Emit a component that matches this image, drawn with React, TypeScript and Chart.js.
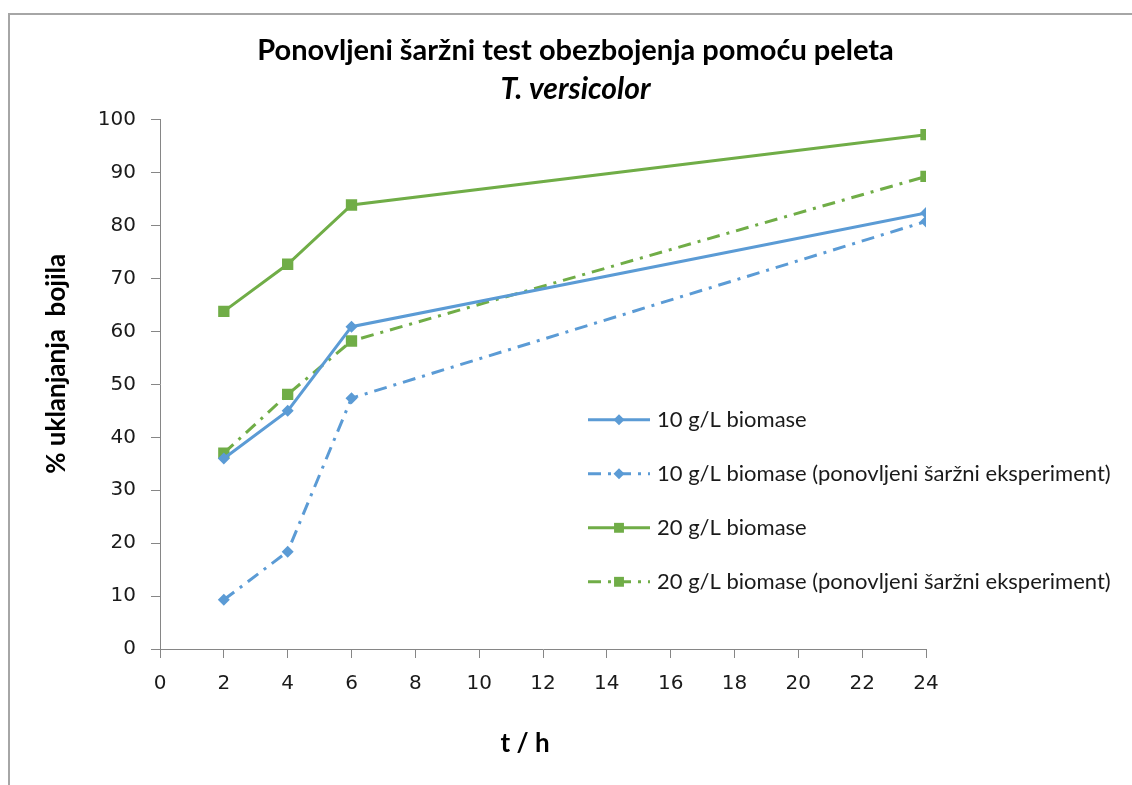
import { useEffect, useRef } from "react";
import { Chart, registerables } from "chart.js";

Chart.register(...registerables);

const timeH = [2, 4, 6, 24];
const biomass10 = [36.0, 45.0, 60.9, 82.4];
const biomass10Repeat = [9.3, 18.4, 47.4, 80.8];
const biomass20 = [63.8, 72.7, 83.9, 97.2];
const biomass20Repeat = [37.0, 48.1, 58.2, 89.3];
const seriesLabels = [
  "10 g/L biomase",
  "10 g/L biomase (ponovljeni šaržni eksperiment)",
  "20 g/L biomase",
  "20 g/L biomase (ponovljeni šaržni eksperiment)",
];
const titleText = "Ponovljeni šaržni test obezbojenja pomoću peleta";
const subtitleText = "T. versicolor";
const xTitle = "t / h";
const yTitle = "% uklanjanja  bojila";

const BLUE = "#5B9BD5";
const GREEN = "#70AD47";
const DASH = [13, 7, 3, 7];
const AXIS = "#868686";
const TICK_FONT = { family: "DejaVu Sans", size: 20 };

const toPoints = (ys: number[]) => timeH.map((x, i) => ({ x, y: ys[i] }));

const legendPlugin = {
  id: "insideLegend",
  afterDatasetsDraw(chart: any) {
    const { ctx, chartArea } = chart;
    const x0 = chartArea.left + 428;
    const x1 = chartArea.left + 490;
    const tx = chartArea.left + 497;
    chart.data.datasets.forEach((ds: any, i: number) => {
      const y = chartArea.top + 300 + i * 54;
      ctx.save();
      ctx.strokeStyle = ds.borderColor;
      ctx.lineWidth = ds.borderWidth;
      ctx.setLineDash(ds.borderDash || []);
      ctx.beginPath();
      ctx.moveTo(x0, y);
      ctx.lineTo(x1, y);
      ctx.stroke();
      ctx.setLineDash([]);
      ctx.fillStyle = ds.pointBackgroundColor;
      const cx = (x0 + x1) / 2;
      ctx.beginPath();
      if (ds.pointStyle === "rectRot") {
        const r = ds.pointRadius - 0.5;
        ctx.moveTo(cx, y - r);
        ctx.lineTo(cx + r, y);
        ctx.lineTo(cx, y + r);
        ctx.lineTo(cx - r, y);
        ctx.closePath();
      } else {
        const s = (ds.pointRadius - 1) * Math.SQRT1_2;
        ctx.rect(cx - s, y - s, 2 * s, 2 * s);
      }
      ctx.fill();
      ctx.fillStyle = "#1a1a1a";
      ctx.font = "22px Lato";
      ctx.textBaseline = "middle";
      ctx.textAlign = "left";
      ctx.fillText(ds.label, tx, y);
      ctx.restore();
    });
  },
};

const axisTitlePlugin = {
  id: "axisTitles",
  afterDraw(chart: any) {
    const { ctx, chartArea } = chart;
    ctx.save();
    ctx.fillStyle = "#000";
    ctx.font = "bold 26px Lato";
    ctx.textAlign = "center";
    ctx.textBaseline = "middle";
    ctx.fillText(xTitle, chartArea.left + 365, chartArea.bottom + 95);
    ctx.translate(47, chartArea.top + 244);
    ctx.rotate(-Math.PI / 2);
    ctx.fillText(yTitle, 0, 0);
    ctx.restore();
  },
};

export default function App() {
  const ref = useRef<HTMLCanvasElement | null>(null);
  useEffect(() => {
    if (!ref.current) return;
    const mk = (label: string, ys: number[], color: string, dashed: boolean, style: string, r: number) => ({
      label,
      data: toPoints(ys),
      borderColor: color,
      backgroundColor: color,
      pointBackgroundColor: color,
      pointBorderColor: color,
      pointBorderWidth: 0,
      borderWidth: 3,
      borderDash: dashed ? DASH : [],
      pointStyle: style,
      pointRadius: r,
      tension: 0,
      yAxisID: "y",
    });
    const chart = new Chart(ref.current, {
      type: "line",
      data: {
        datasets: [
          mk(seriesLabels[0], biomass10, BLUE, false, "rectRot", 6),
          mk(seriesLabels[1], biomass10Repeat, BLUE, true, "rectRot", 6),
          mk(seriesLabels[2], biomass20, GREEN, false, "rect", 8),
          mk(seriesLabels[3], biomass20Repeat, GREEN, true, "rect", 8),
        ] as any,
      },
      options: {
        animation: false,
        responsive: false,
        layout: { padding: { left: 9, right: 0, top: 0, bottom: 28 } },
        plugins: {
          legend: { display: false },
          tooltip: { enabled: false },
          title: {
            display: true,
            text: titleText,
            color: "#000",
            font: { family: "Lato", size: 29, weight: "bold", lineHeight: 1.2 },
            padding: { top: 18, bottom: 0 },
          },
          subtitle: {
            display: true,
            text: subtitleText,
            color: "#000",
            font: { family: "Lato", size: 30, weight: "bold", style: "italic", lineHeight: 1.2 },
            padding: { top: 4, bottom: 12 },
          },
        },
        scales: {
          x: {
            type: "linear",
            min: 0,
            max: 24,
            ticks: { stepSize: 2, color: "#1a1a1a", font: TICK_FONT, padding: 14 },
            grid: { drawOnChartArea: false, drawTicks: true, tickLength: 9, color: AXIS },
            border: { display: true, color: AXIS, width: 1 },
            afterFit: (s: any) => {
              s.height = 108;
            },
          },
          y: {
            position: "left",
            min: 0,
            max: 100,
            ticks: { stepSize: 10, color: "#1a1a1a", font: TICK_FONT, padding: 15 },
            grid: { drawOnChartArea: false, drawTicks: true, tickLength: 9, color: AXIS },
            border: { display: true, color: AXIS, width: 1 },
            afterFit: (s: any) => {
              s.width = 141;
            },
          },
          yRightSpace: {
            position: "right",
            min: 0,
            max: 100,
            ticks: { display: false },
            grid: { display: false },
            border: { display: false },
            afterFit: (s: any) => {
              s.width = 206;
            },
          },
        },
      } as any,
      plugins: [legendPlugin, axisTitlePlugin],
    });
    return () => chart.destroy();
  }, []);

  return (
    <div
      style={{
        position: "absolute",
        left: 8,
        top: 13,
        width: 1124,
        height: 772,
        boxSizing: "border-box",
        borderLeft: "2px solid #a6a6a6",
        borderTop: "2px solid #a6a6a6",
        background: "#fff",
      }}
    >
      <canvas ref={ref} width={1122} height={770} style={{ display: "block" }} />
    </div>
  );
}
